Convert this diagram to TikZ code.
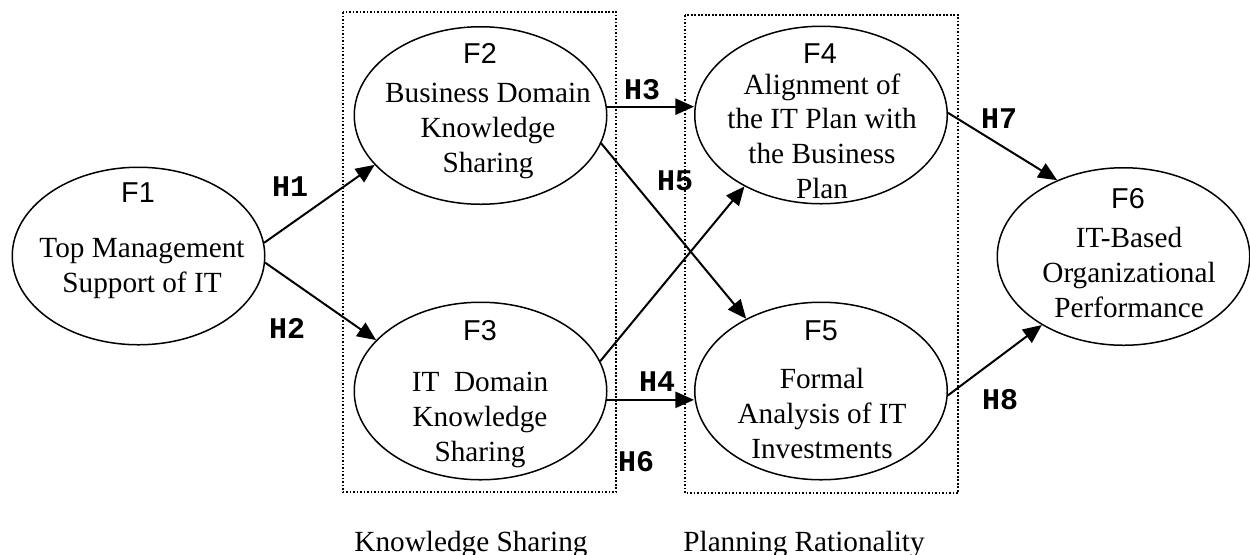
\documentclass[tikz,border=0pt]{standalone}
\usepackage{fontspec}
\setmainfont{Liberation Serif}
\setsansfont{Liberation Sans}
\setmonofont{Liberation Mono}
\usetikzlibrary{arrows.meta,shapes.geometric}

\tikzset{
  factor/.style={draw, ellipse, line width=0.6pt, minimum width=101pt, minimum height=71pt, inner sep=0pt},
  flabel/.style={font=\sffamily\fontsize{11.5}{13}\selectfont, anchor=base, inner sep=0pt},
  ftext/.style={font=\fontsize{11.7}{13.9}\selectfont, align=center, anchor=north, inner sep=0pt},
  hyp/.style={font=\ttfamily\bfseries\fontsize{12}{13}\selectfont, inner sep=0pt},
  link/.style={line width=0.8pt, -{Triangle[length=7.5pt,width=6.5pt]}},
  group/.style={line width=0.9pt, dash pattern=on 0.7pt off 0.7pt},
  grouplabel/.style={font=\fontsize{11.7}{13.9}\selectfont, anchor=base, inner sep=0pt}
}

\begin{document}
\begin{tikzpicture}[x=0.4pt, y=-0.4pt]

    % Fix the frame of the picture
    \useasboundingbox (0,0) rectangle (1250,554);

    % Dotted boxes round the two groups
    \draw[group] (343,12) rectangle (616,492);
    \draw[group] (685,15) rectangle (958,493);

    % The six factors
    \node[factor] (F1) at (138.5,256) {};
    \node[factor] (F2) at (480.5,115.5) {};
    \node[factor] (F3) at (480.5,391) {};
    \node[factor] (F4) at (821,115) {};
    \node[factor] (F5) at (821,391) {};
    \node[factor] (F6) at (1123.5,256.5) {};

    % Factor names
    \node[flabel] (F1name) at (138,202) {F1};
    \node[flabel] (F2name) at (480,63) {F2};
    \node[flabel] (F3name) at (480,340) {F3};
    \node[flabel] (F4name) at (820,63) {F4};
    \node[flabel] (F5name) at (821,340) {F5};
    \node[flabel] (F6name) at (1128,208) {F6};

    % Factor texts
    \node[ftext] (F1text) at (142,238) {Top Management\\Support of IT};
    \node[ftext] (F2text) at (488,83) {Business Domain\\Knowledge\\Sharing};
    \node[ftext] (F3text) at (480,372) {IT~~Domain\\Knowledge\\Sharing};
    \node[ftext] (F4text) at (822,73) {Alignment of\\the IT Plan with\\the Business\\Plan};
    \node[ftext] (F5text) at (822,368) {Formal\\Analysis of IT\\Investments};
    \node[ftext] (F6text) at (1129,227) {IT-Based\\Organizational\\Performance};

    % Hypothesised paths
    \draw[link] (F1.6) -- (F2.205);
    \draw[link] (F1.-3) -- (F3.154);
    \draw[link] (F2.4) -- (F2.4 -| F4.west);
    \draw[link] (F2.-13) -- (F5.136);
    \draw[link] (F3.14) -- (F4.223);
    \draw[link] (F3.-4) -- (F3.-4 -| F5.west);
    \draw[link] (F4.1) -- (F6.131);
    \draw[link] (F5.-2) -- (F6.220);

    % Path labels
    \node[hyp] (H1) at (290,187) {H1};
    \node[hyp] (H2) at (287,328) {H2};
    \node[hyp] (H3) at (642,90) {H3};
    \node[hyp] (H4) at (657,382) {H4};
    \node[hyp] (H5) at (675,181) {H5};
    \node[hyp] (H6) at (636,462) {H6};
    \node[hyp] (H7) at (999,119) {H7};
    \node[hyp] (H8) at (1000,400) {H8};

    % Group names
    \node[grouplabel] (ksname) at (471,551) {Knowledge Sharing};
    \node[grouplabel] (prname) at (804,551) {Planning Rationality};

\end{tikzpicture}
\end{document}
